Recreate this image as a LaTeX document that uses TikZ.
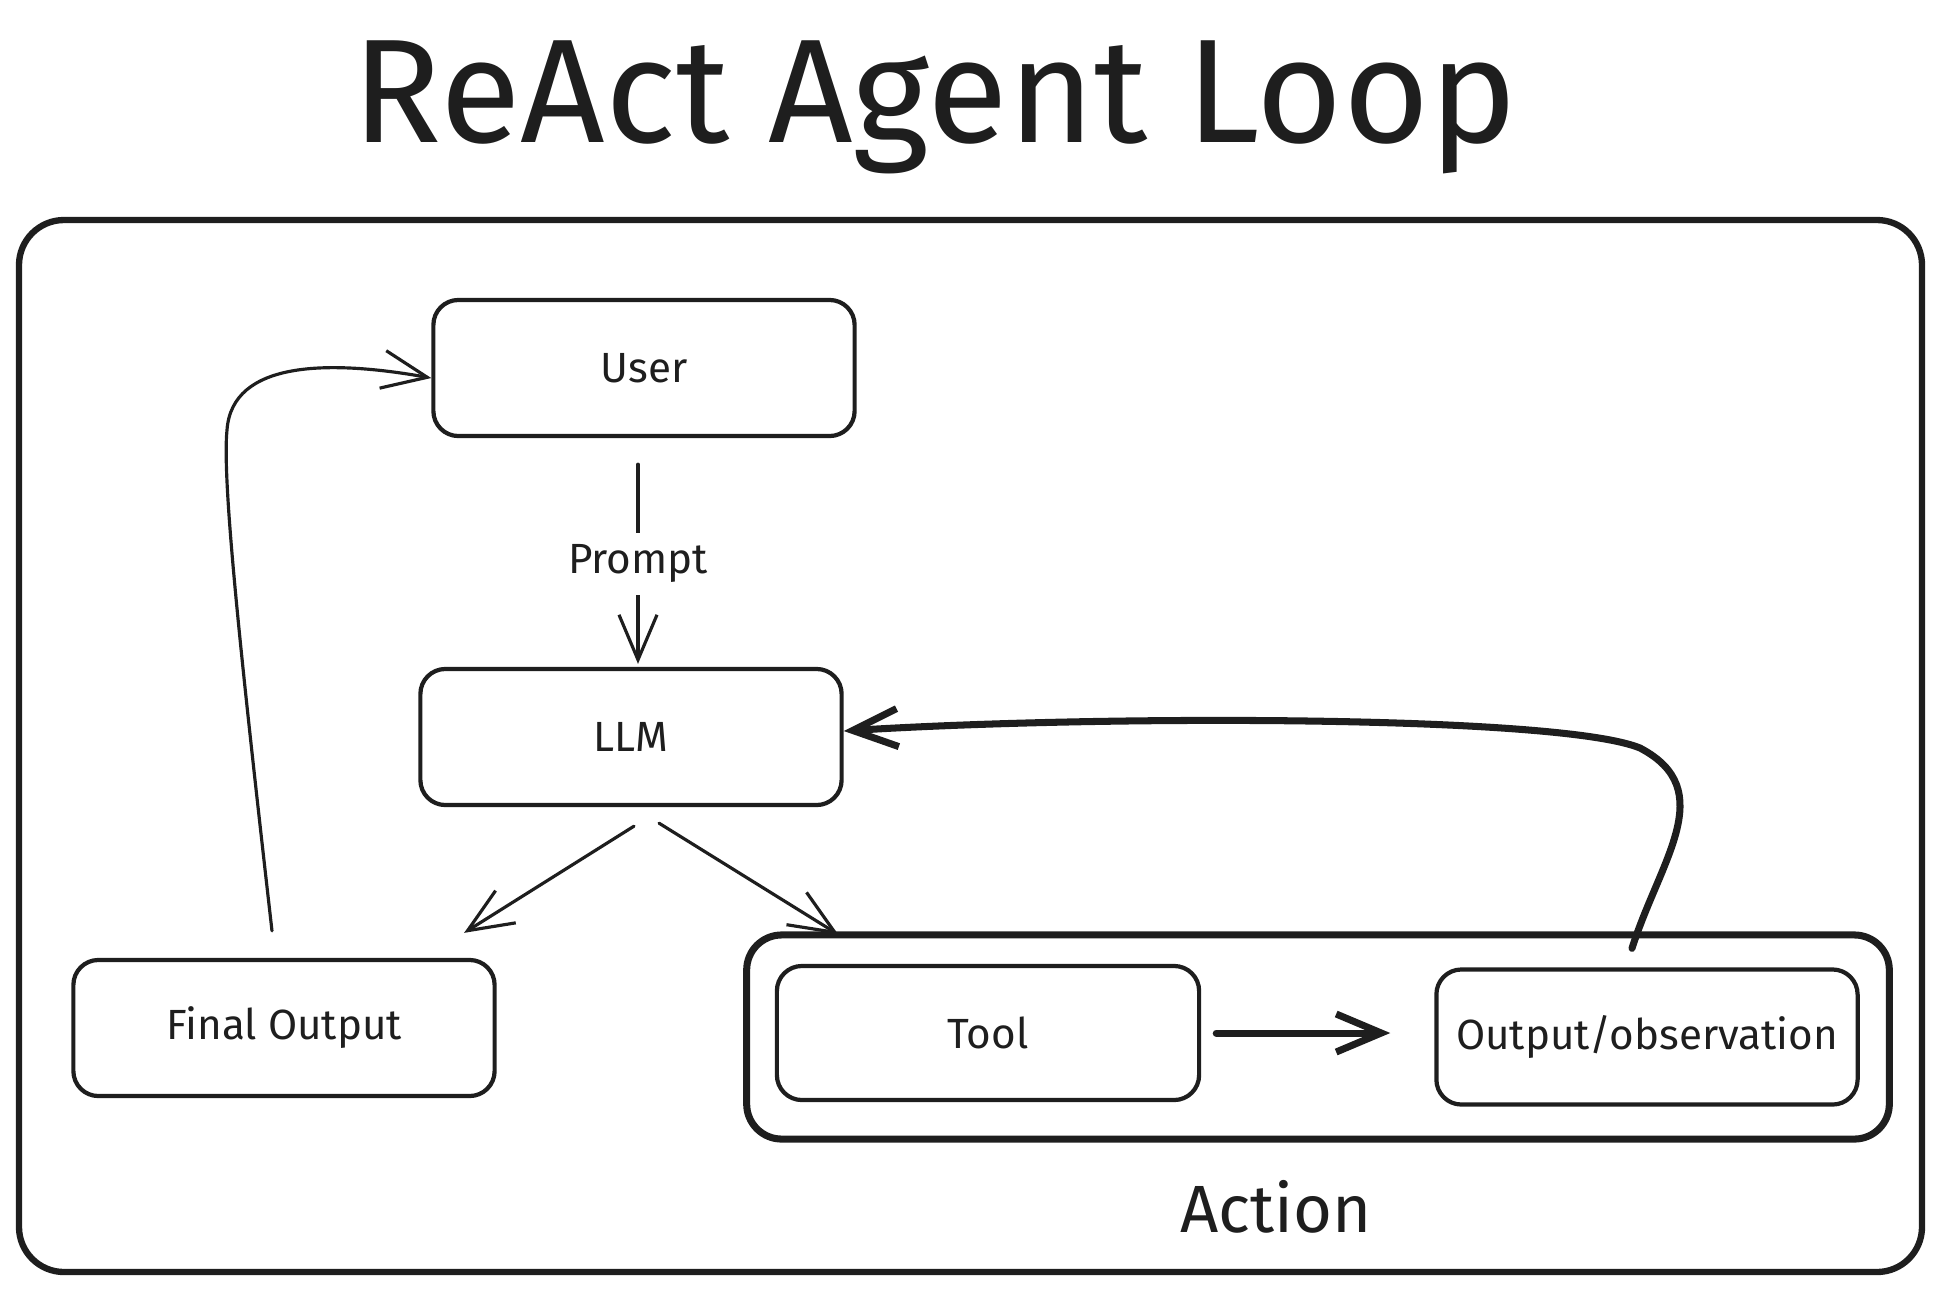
\documentclass[tikz,border=0pt]{standalone}
\usepackage{fontspec}
\setmainfont{Fira Sans}
\usetikzlibrary{arrows.meta}
\definecolor{ink}{HTML}{1E1E1E}

\begin{document}
\begin{tikzpicture}[x=0.01cm, y=-0.01cm,
  line join=round, line cap=round,
  every node/.style = {text=ink, align=center},
  box/.style = {draw=ink, line width=1.2pt, rounded corners=0.25cm,
    minimum width=4.21cm, minimum height=1.36cm, font=\fontsize{12}{14}\selectfont},
  group/.style = {draw=ink, line width=2pt, rounded corners=0.35cm,
    minimum width=11.42cm, minimum height=2.04cm},
  flow/.style = {draw=ink, line width=0.9pt,
    -{Straight Barb[length=0.45cm, width=0.38cm]}},
  heavy flow/.style = {flow, line width=2pt}]

\useasboundingbox (0,0) rectangle (1942,1290);

\node[font=\fontsize{42}{50}\selectfont, anchor=base] (title) at (935,142) {ReAct Agent Loop};
\draw[ink, line width=1.8pt, rounded corners=0.45cm] (19,220) rectangle (1922,1272);

\node[box] (user) at (644,368) {User};
\node[box] (llm) at (631,737) {LLM};
\node[box] (final) at (284,1028) {Final Output};
\node[group] (action) at (1318,1037) {};
\node[box, minimum width=4.22cm, minimum height=1.34cm] (tool) at (988,1033) {Tool};
\node[box, minimum height=1.35cm] (obs) at (1647,1037) {Output/observation};
\node[font=\fontsize{19}{22}\selectfont] (actlabel) at (1276,1207) {Action};

\draw[flow, shorten <=0.26cm, shorten >=0.03cm] ([xshift=-0.06cm]user.south) -- ([xshift=-0.06cm]user.south |- llm.north)
  node[pos=0.55, fill=white, inner sep=0.12cm, font=\fontsize{12}{14}\selectfont] {Prompt};
\draw[flow] ([xshift=0.03cm, yshift=-0.19cm]llm.south) -- ([xshift=1.8cm, yshift=0.25cm]final.north);
\draw[flow] ([xshift=0.28cm, yshift=-0.16cm]llm.south) -- ([xshift=0.95cm, yshift=-0.03cm]action.north west);
\draw[flow] ([xshift=-0.12cm, yshift=0.27cm]final.north)
  .. controls (240,650) and (222,480) .. (227,430)
  .. controls (232,360) and (330,360) .. ([yshift=-0.1cm]user.west);
\draw[heavy flow, shorten <=0.15cm, shorten >=0.44cm] (tool.east) -- (tool.east -| obs.west);
\draw[heavy flow] ([xshift=-0.15cm, yshift=0.19cm]obs.north)
  .. controls (1660,860) and (1720,790) .. (1640,748)
  .. controls (1560,715) and (1100,715) .. ([yshift=0.06cm]llm.east);
\end{tikzpicture}
\end{document}
